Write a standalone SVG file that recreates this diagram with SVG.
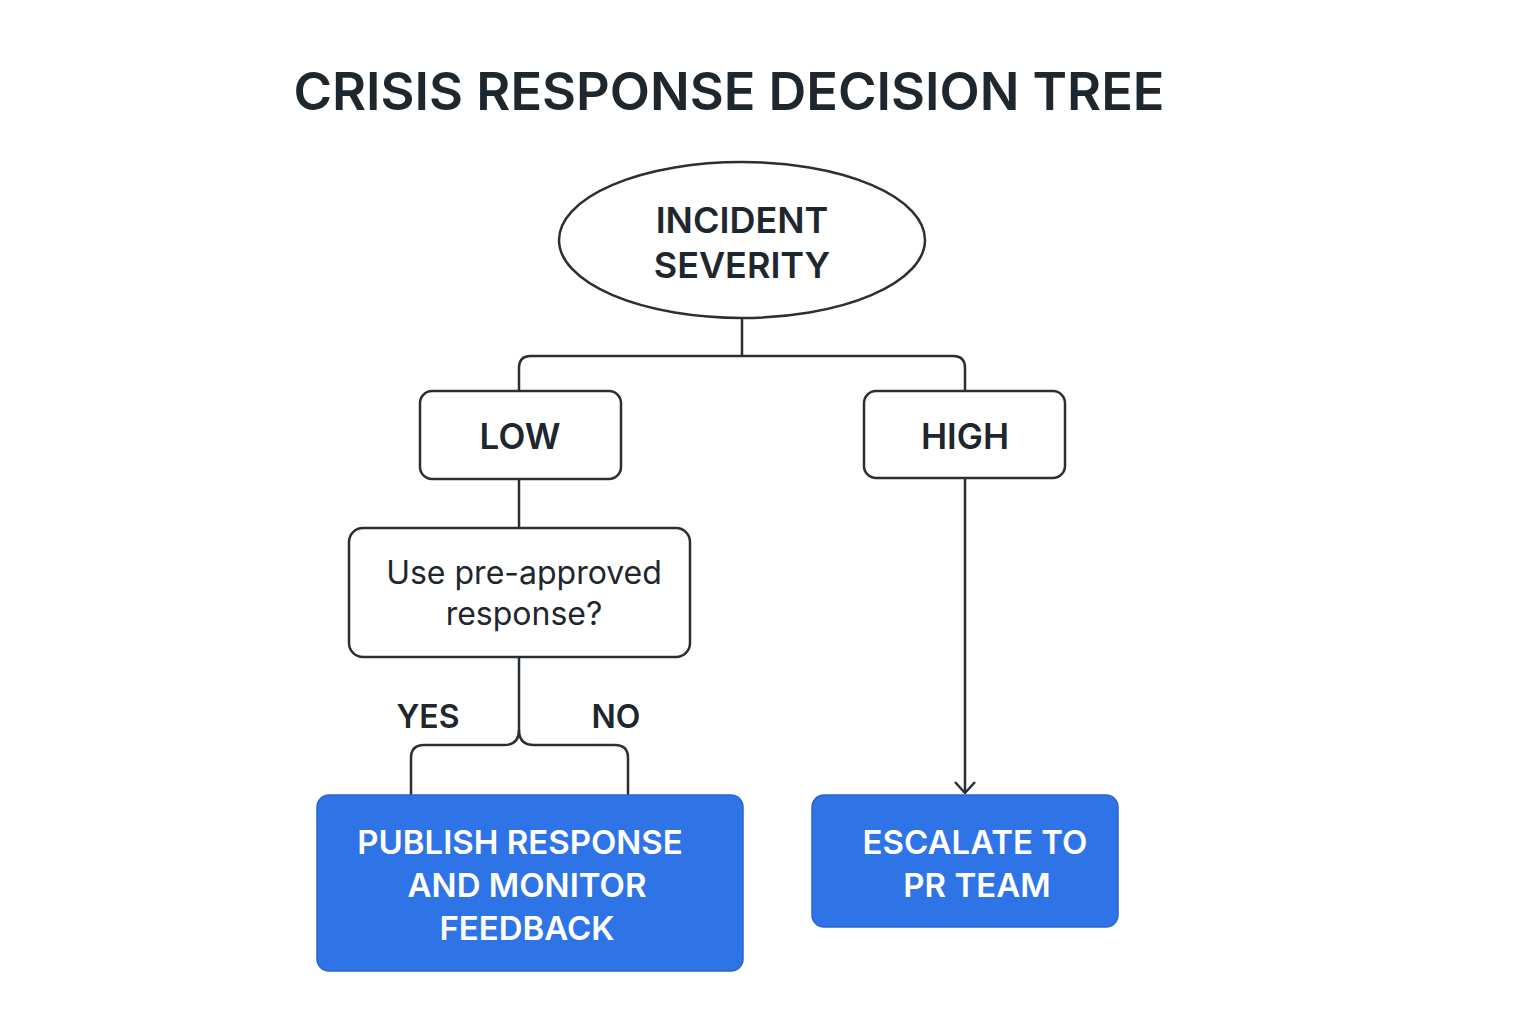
<svg xmlns="http://www.w3.org/2000/svg" width="1536" height="1024" viewBox="0 0 1536 1024">
<style>
.t{font-family:Inter,"Noto Sans","Liberation Sans",sans-serif;fill:#1f272e;text-anchor:middle}
.w{font-family:Inter,"Noto Sans","Liberation Sans",sans-serif;fill:#ffffff;text-anchor:middle;font-weight:600;font-size:33px}
.box{fill:#ffffff;stroke:#2a2f36;stroke-width:2.5}
.blue{fill:#2f74e6;stroke:#2a66d0;stroke-width:1.5}
.ln{fill:none;stroke:#2a2f36;stroke-width:2.5}
</style>
<defs>
<marker id="arr" markerWidth="24" markerHeight="24" refX="20" refY="12" orient="auto" markerUnits="userSpaceOnUse" viewBox="0 0 24 24">
<path d="M9 2 L20 12 L9 22" fill="none" stroke="#2a2f36" stroke-width="2.5"/>
</marker>
</defs>
<rect width="1536" height="1024" fill="#ffffff"/>
<text class="t" x="729" y="110" font-size="52.3" font-weight="600">CRISIS RESPONSE DECISION TREE</text>
<g id="connectors">
<path class="ln" d="M742 318 V356"/>
<path class="ln" d="M519 391 V368 Q519 356 531 356 H953 Q965 356 965 368 V391"/>
<path class="ln" d="M519 479 V528"/>
<path class="ln" d="M519 657 V730 Q519 745 504 745 H424 Q411 745 411 758 V795"/>
<path class="ln" d="M519 730 Q519 745 534 745 H615 Q628 745 628 758 V795"/>
<path class="ln" d="M965 478 V793" marker-end="url(#arr)"/>
<text class="t" x="428" y="728" font-size="32" font-weight="600">YES</text>
<text class="t" x="616" y="728" font-size="32" font-weight="600">NO</text>
</g>
<g id="incident">
<ellipse class="box" cx="742" cy="240" rx="183" ry="78"/>
<text class="t" x="742" y="233" font-size="36" font-weight="600">INCIDENT</text>
<text class="t" x="742" y="278" font-size="36" font-weight="600">SEVERITY</text>
</g>
<g id="low">
<rect class="box" x="420" y="391" width="201" height="88" rx="12"/>
<text class="t" x="520" y="449" font-size="35" font-weight="600">LOW</text>
</g>
<g id="high">
<rect class="box" x="864" y="391" width="201" height="87" rx="12"/>
<text class="t" x="965" y="449" font-size="35" font-weight="600">HIGH</text>
</g>
<g id="question">
<rect class="box" x="349" y="528" width="341" height="129" rx="14"/>
<text class="t" x="524" y="584" font-size="32">Use pre-approved</text>
<text class="t" x="524" y="625" font-size="32">response?</text>
</g>
<g id="publish">
<rect class="blue" x="317" y="795" width="426" height="176" rx="12"/>
<text class="w" x="520" y="854">PUBLISH RESPONSE</text>
<text class="w" x="527" y="897">AND MONITOR</text>
<text class="w" x="527" y="940">FEEDBACK</text>
</g>
<g id="escalate">
<rect class="blue" x="812" y="795" width="306" height="132" rx="12"/>
<text class="w" x="975" y="854">ESCALATE TO</text>
<text class="w" x="977" y="897">PR TEAM</text>
</g>
</svg>
